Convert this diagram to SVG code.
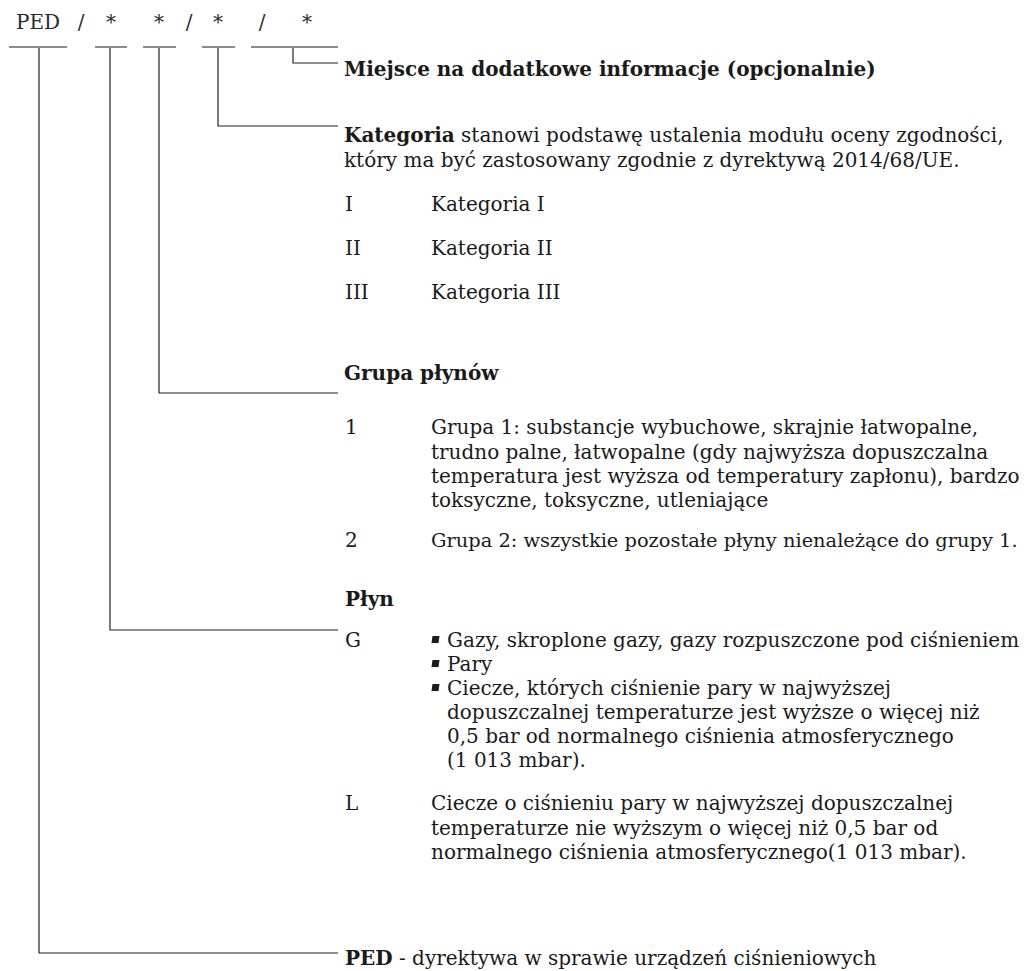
<svg xmlns="http://www.w3.org/2000/svg" width="1030" height="971" viewBox="0 0 1030 971">
<style>
text{font-family:"DejaVu Serif","Liberation Serif",serif;font-size:20px;fill:#1a1a1a}
.b{font-weight:bold}
.m{text-anchor:middle;fill:#2a2a2a}
.seg{fill:#8c8c8c}
.con{stroke:#222;stroke-width:1.2;fill:none}
.bul{fill:#1a1a1a}
</style>
<rect width="1030" height="971" fill="#fff"/>
<g id="code">
<text class="m" x="38" y="29">PED</text>
<text class="m" x="81" y="29">/</text>
<text class="m" x="111" y="29">*</text>
<text class="m" x="159" y="29">*</text>
<text class="m" x="189" y="29">/</text>
<text class="m" x="218" y="29">*</text>
<text class="m" x="262" y="29">/</text>
<text class="m" x="307" y="29">*</text>
<rect class="seg" x="9" y="46" width="58" height="2"/>
<rect class="seg" x="95" y="46" width="32" height="2"/>
<rect class="seg" x="143" y="46" width="33" height="2"/>
<rect class="seg" x="202" y="46" width="33" height="2"/>
<rect class="seg" x="251" y="46" width="87" height="2"/>
</g>
<g id="connectors">
<polyline class="con" points="293,48 293,63 338,63"/>
<polyline class="con" points="218,48 218,126 338,126"/>
<polyline class="con" points="159,48 159,393 338,393"/>
<polyline class="con" points="110,48 110,630 338,630"/>
<polyline class="con" points="39,48 39,953 338,953"/>
</g>
<g id="extra">
<text class="b" x="344" y="76">Miejsce na dodatkowe informacje (opcjonalnie)</text>
</g>
<g id="kategoria">
<text x="344" y="142"><tspan class="b">Kategoria</tspan> stanowi podstawę ustalenia modułu oceny zgodności,</text>
<text x="344" y="167">który ma być zastosowany zgodnie z dyrektywą 2014/68/UE.</text>
<text x="345" y="211">I</text><text x="431" y="211">Kategoria I</text>
<text x="345" y="255">II</text><text x="431" y="255">Kategoria II</text>
<text x="345" y="299">III</text><text x="431" y="299">Kategoria III</text>
</g>
<g id="grupa">
<text class="b" x="344" y="380">Grupa płynów</text>
<text x="345" y="434">1</text>
<text x="431" y="434">Grupa 1: substancje wybuchowe, skrajnie łatwopalne,</text>
<text x="431" y="459">trudno palne, łatwopalne (gdy najwyższa dopuszczalna</text>
<text x="431" y="483">temperatura jest wyższa od temperatury zapłonu), bardzo</text>
<text x="431" y="507">toksyczne, toksyczne, utleniające</text>
<text x="345" y="547">2</text>
<text x="431" y="547" style="font-size:19.4px">Grupa 2: wszystkie pozostałe płyny nienależące do grupy 1.</text>
</g>
<g id="plyn">
<text class="b" x="345" y="606">Płyn</text>
<text x="345" y="647">G</text>
<rect class="bul" x="432" y="636" width="7" height="7" transform="skewX(-8)" transform-origin="435.5 639.5"/>
<text x="447" y="647">Gazy, skroplone gazy, gazy rozpuszczone pod ciśnieniem</text>
<rect class="bul" x="432" y="660" width="7" height="7" transform="skewX(-8)" transform-origin="435.5 663.5"/>
<text x="447" y="671">Pary</text>
<rect class="bul" x="432" y="684" width="7" height="7" transform="skewX(-8)" transform-origin="435.5 687.5"/>
<text x="447" y="695">Ciecze, których ciśnienie pary w najwyższej</text>
<text x="447" y="719">dopuszczalnej temperaturze jest wyższe o więcej niż</text>
<text x="447" y="743">0,5 bar od normalnego ciśnienia atmosferycznego</text>
<text x="447" y="767">(1 013 mbar).</text>
<text x="345" y="810">L</text>
<text x="431" y="810">Ciecze o ciśnieniu pary w najwyższej dopuszczalnej</text>
<text x="431" y="835">temperaturze nie wyższym o więcej niż 0,5 bar od</text>
<text x="431" y="859">normalnego ciśnienia atmosferycznego(1 013 mbar).</text>
</g>
<g id="ped">
<text x="345" y="965"><tspan class="b">PED</tspan> - dyrektywa w sprawie urządzeń ciśnieniowych</text>
</g>
</svg>
